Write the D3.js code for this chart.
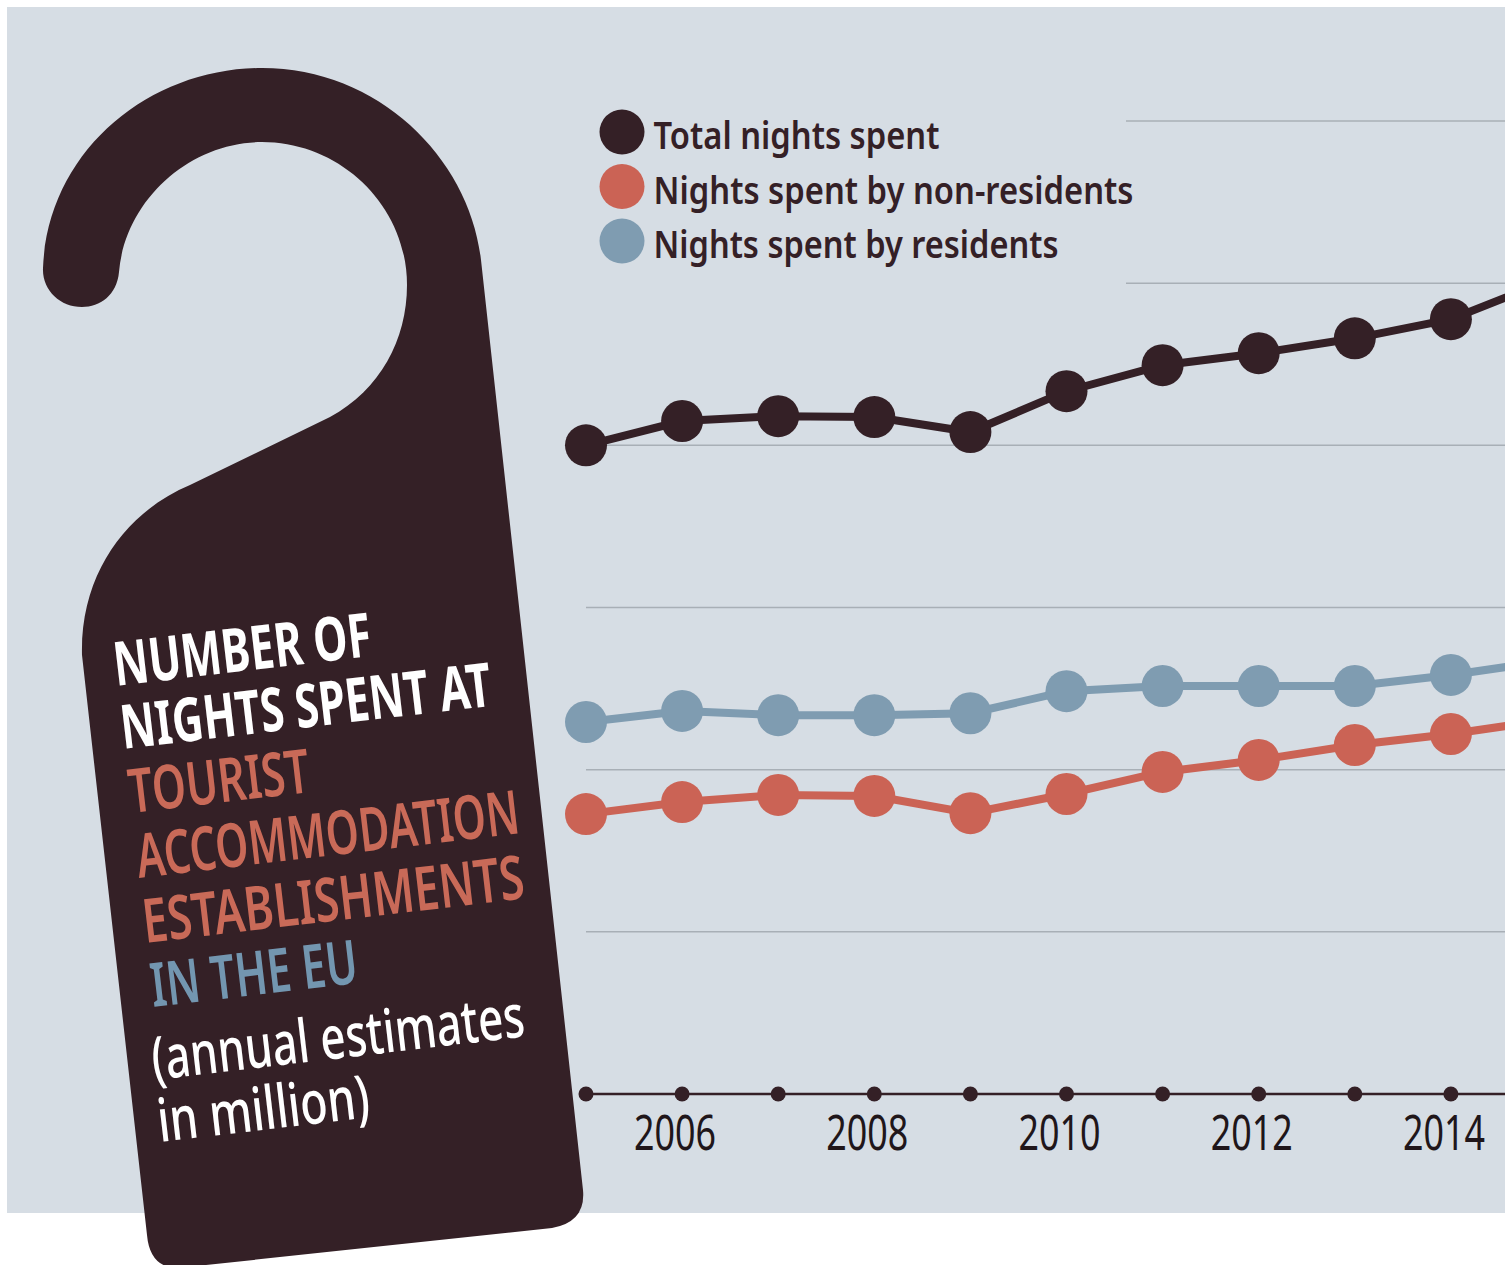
<!DOCTYPE html>
<html>
<head>
<meta charset="utf-8">
<script src="https://cdn.jsdelivr.net/npm/d3@7"></script>
<style>
  html, body { margin: 0; padding: 0; background: #fff; overflow: hidden; }
  svg { display: block; font-family: "Noto Sans", "Open Sans", sans-serif; }
</style>
</head>
<body>
<svg id="chart" width="1505" height="1265"></svg>
<script>
const years = [2005, 2006, 2007, 2008, 2009, 2010, 2011, 2012, 2013, 2014, 2015];
const labelYears = [2006, 2008, 2010, 2012, 2014];
const gridValues = [500, 1000, 1500, 2000, 2500, 3000];
const totalNights = [2000, 2075, 2090, 2087, 2041, 2167, 2247, 2284, 2330, 2389, 2506];
const nonResidents = [863, 900, 922, 919, 866, 925, 993, 1030, 1076, 1110, 1153];
const residents = [1147, 1181, 1168, 1168, 1174, 1242, 1258, 1258, 1258, 1292, 1335];

const legendNames = ['Total nights spent', 'Nights spent by non-residents', 'Nights spent by residents'];
const legendWidths = [286, 480, 405];
const titleLines = ['NUMBER OF', 'NIGHTS SPENT AT', 'TOURIST', 'ACCOMMODATION', 'ESTABLISHMENTS', 'IN THE EU', '(annual estimates', 'in million)'];

const dark = '#342026', red = '#cb6355', blue = '#7f9cb1', grid = '#a8afb6';

const svg = d3.select('#chart');

svg.append('rect')
  .attr('x', 7).attr('y', 7)
  .attr('width', 1498).attr('height', 1206)
  .attr('fill', '#d6dde4');

const x = d3.scaleLinear().domain([2005, 2015]).range([586, 1547]);
const y = d3.scaleLinear().domain([0, 3000]).range([1094, 121]);

// gridlines, the top two stop short of the legend
svg.append('g').selectAll('line')
  .data(gridValues)
  .join('line')
    .attr('x1', d => d >= 2500 ? 1126 : 586)
    .attr('x2', 1505)
    .attr('y1', d => y(d))
    .attr('y2', d => y(d))
    .attr('stroke', grid)
    .attr('stroke-width', 1.5);

// x axis
const xAxis = d3.axisBottom(x)
  .tickValues(labelYears)
  .tickFormat(d3.format('d'))
  .tickSize(0)
  .tickPadding(21);

const axisG = svg.append('g')
  .attr('transform', 'translate(0,' + y(0) + ')')
  .call(xAxis);
axisG.select('.domain').remove();
axisG.append('line')
  .attr('x1', 586).attr('x2', 1505)
  .attr('stroke', dark).attr('stroke-width', 2.5);
// digits squeezed with a transform, no condensed face is installed
axisG.selectAll('.tick text')
  .attr('x', -7.5 / 0.717)
  .attr('transform', 'scale(0.717,1)')
  .attr('font-family', '"Noto Sans", sans-serif')
  .attr('font-size', 50)
  .attr('fill', '#20161a');
axisG.append('g').selectAll('circle')
  .data(years)
  .join('circle')
    .attr('cx', d => x(d))
    .attr('r', 7.5)
    .attr('fill', dark);

// series
const line = d3.line()
  .x((d, i) => x(years[i]))
  .y(d => y(d));

const series = [
  { values: totalNights, color: dark },
  { values: residents, color: blue },
  { values: nonResidents, color: red }
];

series.forEach(function(s) {
  svg.append('path')
    .datum(s.values)
    .attr('fill', 'none')
    .attr('stroke', s.color)
    .attr('stroke-width', 8)
    .attr('d', line);
  svg.append('g').selectAll('circle')
    .data(s.values)
    .join('circle')
      .attr('cx', (d, i) => x(years[i]))
      .attr('cy', d => y(d))
      .attr('r', 21)
      .attr('fill', s.color);
});

// legend
const legendColors = [dark, red, blue];
const legendRowY = d3.scalePoint().domain(legendNames).range([132, 241]);
const legend = svg.append('g').selectAll('g')
  .data(legendNames)
  .join('g')
    .attr('transform', d => 'translate(622,' + legendRowY(d) + ')');
legend.append('circle')
  .attr('r', 22.5)
  .attr('fill', (d, i) => legendColors[i]);
legend.append('text')
  .attr('x', 31.5)
  .attr('y', 17)
  .attr('font-size', 37)
  .attr('font-weight', 600)
  .attr('fill', dark)
  .attr('textLength', (d, i) => legendWidths[i])
  .attr('lengthAdjust', 'spacingAndGlyphs')
  .text(d => d);

// door hanger
svg.append('path')
  .attr('fill', dark)
  .attr('d', 'M43 268 C48 150 150 68 262 68 C380 68 470 160 481 260 L583 1190 Q586 1222 552 1228 L178 1268 Q150 1268 147 1235 L82 655 C80 570 130 510 190 485 L330 417 C380 390 407 340 407 285 C407 205 340 142 262 142 C190 142 125 200 119 272 C117 295 100 307 82 307 C60 307 42 290 43 268 Z');

// hanger text, each line placed on its own baseline
const titleX = [116, 123, 131, 139, 145, 153, 154, 160];
const titleY = [686, 749, 813, 878, 943, 1007, 1080, 1142];
const titleWidths = [259, 373, 182, 385, 384, 208, 375, 213];
const titleColors = ['#fff', '#fff', '#c96a58', '#c96a58', '#c96a58', '#7396b0', '#fff', '#fff'];
const titleSizes = [61, 61, 61, 61, 61, 61, 60, 60];
const titleWeights = [700, 700, 600, 600, 600, 600, 500, 500];

svg.append('g').selectAll('text')
  .data(titleLines)
  .join('text')
    .attr('transform', (d, i) => 'translate(' + titleX[i] + ',' + titleY[i] + ') rotate(-6.7)')
    .attr('font-size', (d, i) => titleSizes[i])
    .attr('font-weight', (d, i) => titleWeights[i])
    .attr('fill', (d, i) => titleColors[i])
    .attr('textLength', (d, i) => titleWidths[i])
    .attr('lengthAdjust', 'spacingAndGlyphs')
    .text(d => d);
</script>
</body>
</html>
